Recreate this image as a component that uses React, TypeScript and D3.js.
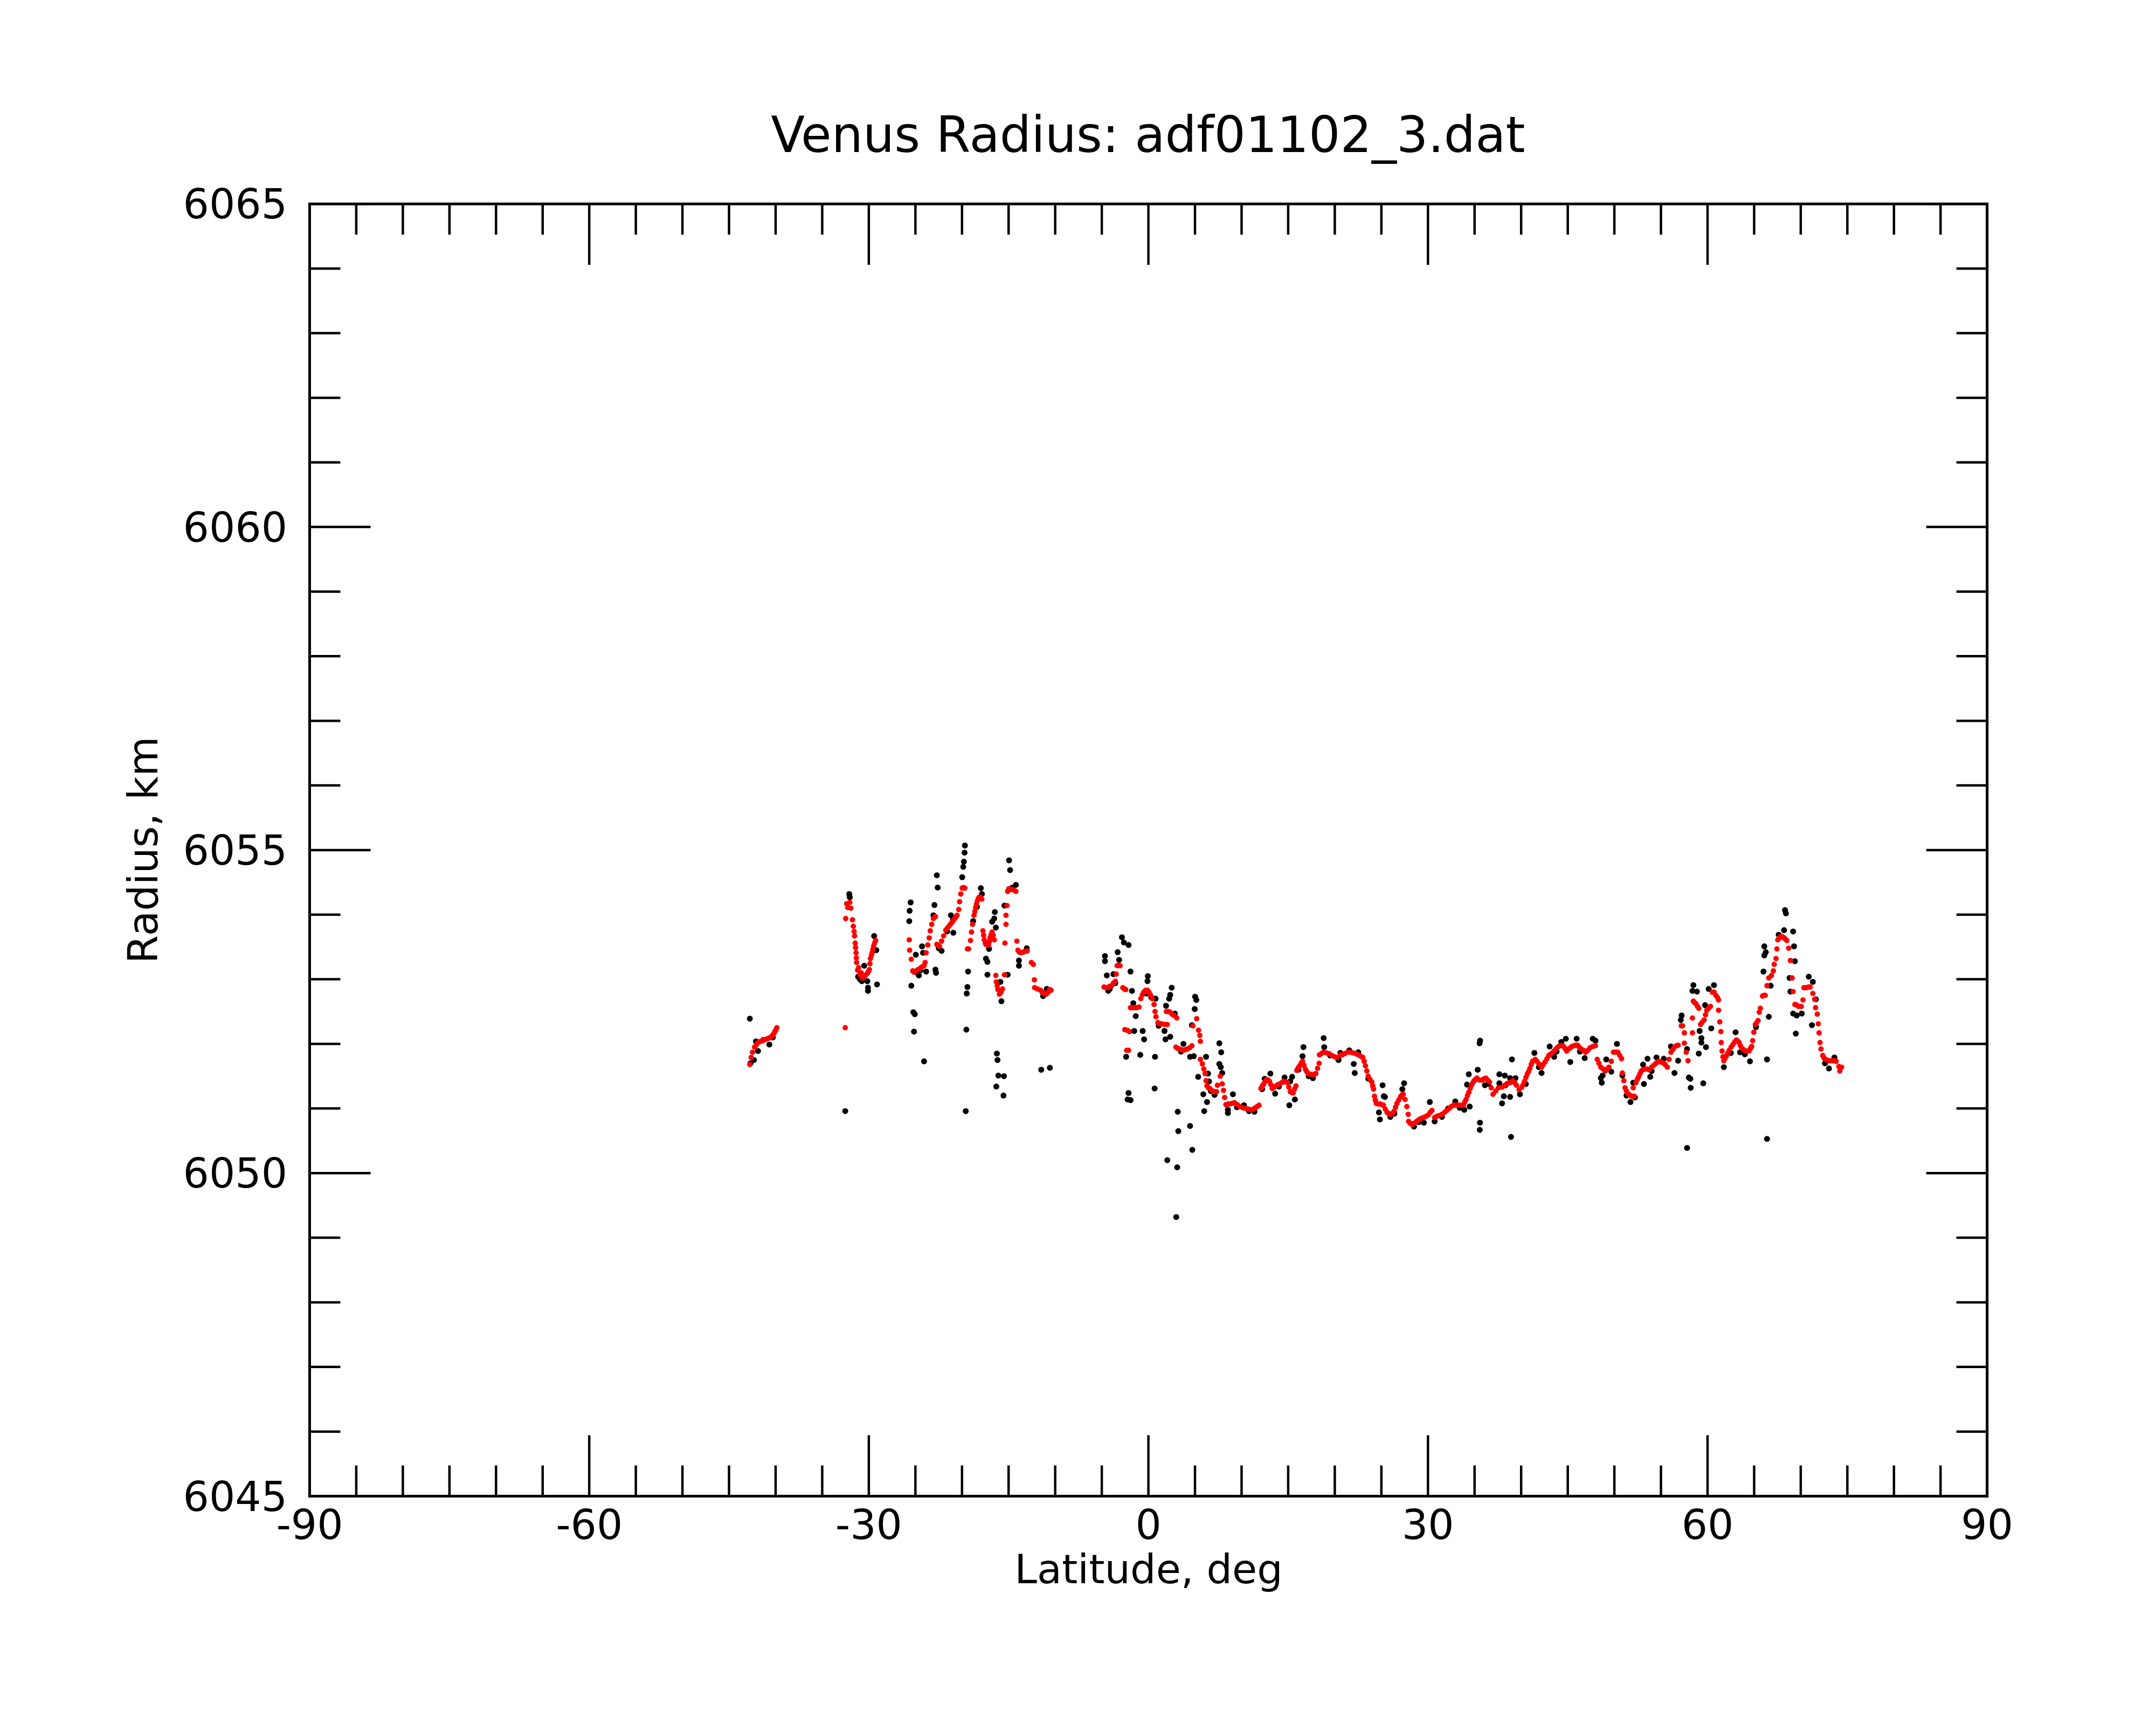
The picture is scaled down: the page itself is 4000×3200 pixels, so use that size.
import React from "react";
import * as d3 from "d3";

const titleText = "Venus Radius: adf01102_3.dat";
const xLabel = "Latitude, deg";
const yLabel = "Radius, km";
const xMajorTicks = [-90, -60, -30, 0, 30, 60, 90];
const yMajorTicks = [6045, 6050, 6055, 6060, 6065];

// Raw radius (black) points: [latitude, radius]
const blackPoints: [number, number][] = [
  [-42.77,6052.39],[-42.70,6051.70],[-42.33,6051.75],[-41.89,6051.89],[-42.11,6052.04],[-41.33,6052.06],[-40.67,6051.99],[-40.30,6052.10],
  [-32.53,6050.96],
  [-32.10,6054.32],[-32.04,6054.27],[-30.49,6053.21],[-31.15,6053.04],[-30.75,6052.97],[-30.16,6052.97],[-30.09,6052.87],[-30.09,6052.82],[-29.12,6052.92],[-29.43,6053.67],[-29.20,6053.45],[-30.95,6053.00],[-30.45,6052.99],
  [-25.51,6054.19],[-25.62,6054.06],[-25.66,6053.90],[-25.44,6052.90],[-25.22,6052.49],[-25.07,6052.46],[-25.15,6052.19],[-24.07,6051.73],[-24.96,6053.38],[-24.63,6053.06],[-24.29,6053.51],[-24.18,6053.41],[-23.85,6053.12],[-22.85,6053.15],[-22.79,6053.10],[-22.96,6054.15],[-23.07,6053.99],[-22.70,6054.61],[-22.61,6054.42],[-22.19,6053.44],[-20.93,6053.72],[-21.19,6053.99],[-20.97,6053.92],[-19.98,6054.58],[-19.87,6054.74],[-19.80,6054.82],[-19.73,6054.96],[-19.69,6055.07],[-19.35,6053.12],[-19.42,6052.88],[-19.49,6052.78],[-19.53,6052.22],[-19.60,6050.96],[-24.80,6053.10],[-24.45,6053.14],[-22.50,6053.48],[-21.60,6053.74],
  [-17.98,6054.41],[-17.87,6054.32],[-16.48,6054.04],[-16.54,6053.94],[-16.77,6053.89],[-16.37,6053.80],[-17.10,6053.47],[-17.43,6053.32],[-17.27,6053.27],[-17.27,6053.07],[-16.26,6051.85],[-16.19,6051.75],[-16.10,6051.51],[-15.50,6051.50],[-16.32,6051.34],[-15.55,6051.20],[-15.77,6052.66],[-15.88,6052.96],[-15.10,6053.07],[-15.44,6054.14],[-14.95,6054.84],[-14.84,6054.69],[-14.22,6054.46],[-13.89,6053.29],[-13.89,6053.21],[-13.05,6053.48],[-10.90,6052.85],[-11.50,6051.60],[-10.57,6051.63],[-18.40,6054.12],[-18.80,6053.90],[-14.60,6054.42],[-11.30,6052.74],
  [-4.66,6053.36],[-4.66,6053.28],[-4.46,6053.06],[-4.15,6052.85],[-3.30,6053.42],[-3.14,6053.30],[-2.84,6053.65],[-2.63,6053.57],[-2.13,6053.53],[-1.92,6053.12],[-3.75,6053.08],[-3.55,6052.94],[-1.76,6052.82],[-1.62,6052.63],[-1.36,6052.43],[-1.52,6052.20],[-2.39,6051.80],[-2.13,6051.24],[-2.23,6051.14],[-1.92,6051.13],[-0.87,6051.83],[-0.61,6052.20],[-0.46,6052.07],[-0.06,6053.05],[-0.10,6052.97],[0.71,6051.80],[0.67,6051.31],[0.77,6052.70],[1.73,6052.20],[1.83,6052.07],[2.34,6052.11],[1.89,6052.59],[2.23,6052.70],[2.34,6052.76],[2.50,6052.87],[2.84,6052.47],[3.15,6050.95],[3.21,6050.65],[4.47,6050.73],[4.71,6050.36],[2.03,6050.20],[3.09,6050.09],[2.99,6049.32],[3.76,6052.00],[4.47,6051.80],[4.87,6051.81],[5.01,6052.73],[5.14,6052.68],[4.97,6052.54],[4.67,6052.29],[5.34,6051.49],[6.19,6051.80],[6.40,6051.54],[6.50,6051.42],[5.89,6051.22],[6.29,6051.10],[5.99,6050.96],[7.10,6051.21],[7.61,6052.01],[7.81,6051.87],[7.61,6051.69],[7.77,6051.64],[7.92,6051.55],[8.53,6050.98],[8.53,6050.93],[9.07,6051.22],[10.25,6051.05],[11.38,6050.95],[12.48,6051.46],[13.09,6051.54],[13.60,6051.23],[14.61,6051.48],[15.22,6051.42],[15.42,6051.49],[15.12,6051.05],[15.72,6051.14],[16.64,6051.95],[16.54,6051.81],[17.65,6051.47],[18.81,6052.09],[18.87,6051.95],[20.39,6051.76],[-4.30,6052.82],[-0.20,6052.78],[0.30,6052.72],[1.10,6052.28],[3.50,6051.88],[6.70,6051.27],[9.50,6051.02],[10.80,6050.96],[12.20,6051.30],[14.00,6051.34],[16.10,6051.60],[17.20,6051.50],[19.50,6051.82],
  [20.60,6051.86],[21.56,6051.90],[22.52,6051.87],[22.04,6051.69],[22.14,6051.55],[20.40,6051.75],[25.13,6051.36],[25.26,6051.19],[25.38,6051.18],[24.74,6050.94],[24.84,6050.83],[25.96,6050.87],[27.44,6051.39],[27.25,6051.30],[28.50,6050.72],[29.56,6050.78],[30.20,6051.10],[30.72,6050.80],[32.16,6051.00],[32.93,6051.11],[33.90,6050.98],[34.48,6051.03],[34.38,6051.53],[34.19,6051.37],[35.34,6051.60],[35.59,6052.05],[35.54,6052.01],[35.58,6050.78],[35.56,6050.67],[36.11,6051.36],[37.66,6051.53],[38.24,6051.51],[38.81,6051.47],[39.39,6051.47],[37.66,6051.39],[38.33,6051.36],[38.14,6051.19],[37.95,6051.08],[38.81,6051.18],[39.01,6051.76],[38.91,6050.56],[39.87,6051.22],[41.42,6051.86],[42.19,6051.55],[43.06,6051.96],[43.54,6051.80],[44.31,6052.03],[44.79,6052.08],[45.27,6051.72],[45.95,6052.08],[46.82,6051.78],[47.68,6052.08],[48.55,6051.47],[48.65,6051.40],[23.60,6051.46],[26.40,6050.92],[29.00,6050.79],[31.50,6050.87],[33.40,6051.01],[36.50,6051.38],[40.50,6051.38],[41.90,6051.64],[43.80,6051.88],[46.30,6051.88],
  [47.97,6052.05],[48.74,6051.51],[49.67,6051.57],[49.13,6051.76],[50.28,6052.00],[50.86,6051.51],[51.73,6051.10],[52.21,6051.17],[52.02,6051.40],[53.17,6051.38],[53.56,6051.77],[53.08,6051.68],[53.85,6051.49],[54.52,6051.79],[55.30,6051.77],[56.07,6051.96],[56.45,6051.55],[56.84,6051.74],[57.22,6052.44],[57.13,6052.37],[57.80,6051.92],[57.99,6051.48],[58.15,6051.46],[58.19,6051.32],[57.80,6050.39],[59.54,6051.39],[58.38,6052.82],[58.48,6052.91],[58.86,6052.81],[59.15,6052.20],[59.34,6052.09],[59.34,6052.02],[59.06,6051.85],[59.73,6052.60],[59.83,6051.95],[60.69,6052.91],[60.12,6052.85],[60.40,6052.24],[61.75,6051.64],[63.01,6052.18],[63.49,6051.87],[64.55,6051.73],[66.09,6053.51],[66.25,6053.42],[66.09,6053.37],[66.00,6053.12],[66.77,6052.90],[66.57,6052.42],[66.38,6051.76],[66.38,6050.53],[67.63,6053.69],[68.21,6053.76],[68.31,6054.07],[68.41,6054.02],[69.18,6053.74],[69.28,6053.51],[69.37,6053.28],[68.80,6053.02],[68.89,6052.81],[69.18,6052.47],[69.57,6052.44],[70.11,6052.47],[69.47,6052.16],[70.86,6053.04],[71.30,6052.96],[71.63,6052.69],[71.20,6052.29],[73.03,6051.62],[73.61,6051.79],[51.30,6051.20],[54.00,6051.58],[62.50,6051.86],[64.00,6051.84],[65.20,6052.26],[72.60,6051.70],
];

// Filtered radius (red) points: [latitude, radius]
const redPoints: [number, number][] = [
  [-42.77,6051.68],[-42.62,6051.79],[-42.48,6051.87],[-42.26,6051.95],[-42.10,6051.98],[-41.95,6052.01],[-41.78,6052.03],[-41.60,6052.04],[-41.40,6052.05],[-41.22,6052.06],[-41.05,6052.07],[-40.89,6052.08],[-40.72,6052.09],[-40.56,6052.10],[-40.40,6052.12],[-40.27,6052.14],[-40.15,6052.17],[-40.05,6052.20],[-39.95,6052.22],[-39.87,6052.25],
  [-32.53,6052.25],
  [-32.37,6054.17],[-32.26,6054.11],[-32.04,6054.19],[-31.93,6054.10],[-32.48,6053.94],[-31.75,6053.92],[-31.66,6053.82],[-31.58,6053.74],[-31.53,6053.67],[-31.46,6053.56],[-31.42,6053.49],[-31.37,6053.41],[-31.34,6053.33],[-31.31,6053.26],[-31.20,6053.14],[-31.09,6053.18],[-30.95,6053.07],[-30.82,6053.10],[-30.70,6053.02],[-30.60,6053.04],[-30.50,6053.03],[-30.38,6053.06],[-30.16,6053.09],[-30.05,6053.12],[-29.94,6053.15],[-29.88,6053.24],[-29.83,6053.32],[-29.72,6053.37],[-29.65,6053.41],[-29.57,6053.46],[-29.49,6053.51],[-29.38,6053.56],[-29.27,6053.60],
  [-25.66,6053.61],[-25.62,6053.45],[-25.44,6053.31],[-25.29,6053.13],[-25.15,6053.11],[-25.07,6053.12],[-24.90,6053.13],[-24.73,6053.15],[-24.55,6053.16],[-24.40,6053.18],[-24.20,6053.20],[-24.07,6053.21],[-23.96,6053.26],[-23.85,6053.41],[-23.67,6053.53],[-23.52,6053.64],[-23.41,6053.75],[-23.25,6053.85],[-23.07,6053.94],[-22.85,6053.97],
  [-22.70,6053.54],[-22.55,6053.52],[-22.41,6053.51],[-22.19,6053.59],[-21.97,6053.67],[-21.75,6053.76],[-21.58,6053.79],[-21.41,6053.82],[-21.25,6053.85],[-21.08,6053.88],[-20.93,6053.91],[-20.79,6053.94],[-20.66,6053.96],[-20.53,6053.99],[-20.35,6054.08],[-20.26,6054.20],[-20.13,6054.32],[-19.98,6054.41],[-19.85,6054.42],[-19.69,6054.41],
  [-19.42,6053.47],[-19.30,6053.47],
  [-19.09,6053.60],[-18.98,6053.73],[-18.87,6053.85],[-18.71,6053.99],[-18.62,6054.05],[-18.54,6054.11],[-18.45,6054.16],[-18.36,6054.21],[-18.25,6054.25],[-18.14,6054.27],[-18.00,6054.27],[-17.87,6054.24],
  [-17.76,6053.75],[-17.68,6053.68],[-17.61,6053.61],[-17.50,6053.56],[-17.43,6053.54],[-17.30,6053.54],[-17.16,6053.53],[-17.08,6053.58],[-16.99,6053.64],[-16.88,6053.69],[-16.77,6053.73],[-16.65,6053.68],[-16.54,6053.61],
  [-16.37,6053.06],[-16.32,6052.96],[-16.22,6052.90],[-16.15,6052.84],[-15.99,6052.77],[-15.82,6052.80],[-15.66,6052.85],[-15.44,6053.07],
  [-15.39,6053.56],[-15.28,6053.85],[-15.28,6053.99],[-15.17,6054.14],[-15.10,6054.36],[-14.98,6054.40],[-14.82,6054.39],[-14.63,6054.39],[-14.44,6054.38],[-14.22,6054.36],
  [-14.11,6053.59],[-14.00,6053.45],[-13.85,6053.42],[-13.67,6053.41],[-13.45,6053.42],[-13.22,6053.43],[-13.00,6053.44],
  [-12.56,6053.26],[-12.34,6053.23],[-12.23,6052.99],[-12.21,6052.87],[-11.90,6052.85],[-11.57,6052.83],[-11.40,6052.80],[-11.23,6052.78],[-10.96,6052.77],[-10.75,6052.80],[-10.57,6052.84],[-10.45,6052.83],
  [-4.76,6052.88],[-4.56,6052.87],[-4.36,6052.87],[-4.15,6052.89],[-3.95,6052.90],[-3.75,6052.94],[-3.55,6052.97],[-3.45,6053.08],[-3.35,6053.21],[-3.20,6053.22],[-3.04,6053.21],
  [-2.74,6052.87],[-2.58,6052.85],[-2.43,6052.84],[-2.53,6052.22],[-2.28,6052.21],[-2.03,6052.19],[-2.33,6051.90],[-2.13,6051.90],
  [-1.92,6052.56],[-1.72,6052.56],[-1.52,6052.56],[-1.26,6052.56],[-1.01,6052.57],[-0.81,6052.70],[-0.65,6052.76],[-0.50,6052.80],[-0.30,6052.83],[-0.10,6052.83],[0.05,6052.80],[0.21,6052.76],[0.41,6052.70],[0.61,6052.61],[0.71,6052.50],[0.81,6052.42],[1.02,6052.33],[1.22,6052.31],[1.42,6052.31],[1.73,6052.30],[2.03,6052.30],
  [1.93,6052.50],[2.14,6052.50],[2.34,6052.49],[2.54,6052.46],[2.74,6052.44],[3.05,6052.40],
  [2.95,6051.95],[3.15,6051.93],[3.35,6051.92],[3.55,6051.91],[3.76,6051.90],[3.96,6051.91],[4.16,6051.92],[4.42,6051.94],[4.67,6051.97],
  [4.77,6052.28],[5.18,6052.39],[5.38,6052.21],[5.52,6052.13],[5.58,6052.04],
  [5.58,6051.76],[5.79,6051.69],[5.95,6051.61],[6.09,6051.54],[6.19,6051.43],[6.29,6051.35],[6.45,6051.32],[6.60,6051.31],[6.80,6051.28],[7.00,6051.26],[7.15,6051.26],[7.31,6051.26],[7.41,6051.36],[7.71,6051.50],[7.92,6051.38],[8.06,6051.28],[8.18,6051.17],[8.32,6051.06],[8.52,6051.07],[8.73,6051.07],[8.98,6051.08],[9.23,6051.09],[9.54,6051.06],[9.84,6051.03],[10.15,6051.01],[10.45,6051.00],[10.75,6050.99],[11.06,6050.98],[11.27,6050.99],[11.47,6051.01],[11.67,6051.03],[11.87,6051.05],
  [12.08,6051.31],[12.23,6051.35],[12.38,6051.38],[12.53,6051.42],[12.68,6051.45],[12.84,6051.44],[12.99,6051.42],[13.14,6051.37],[13.29,6051.31],[13.50,6051.33],[13.70,6051.35],[13.90,6051.37],[14.11,6051.38],[14.31,6051.40],[14.51,6051.42],[14.72,6051.41],[14.92,6051.40],[15.07,6051.33],[15.22,6051.26],[15.38,6051.25],[15.53,6051.24],[15.68,6051.30],[15.83,6051.35],[15.93,6051.59],[16.08,6051.63],[16.23,6051.66],[16.38,6051.70],[16.54,6051.73],[16.69,6051.67],[16.84,6051.61],[17.00,6051.57],[17.15,6051.54],[17.40,6051.53],[17.65,6051.52],[17.80,6051.53],[17.96,6051.54],[18.15,6051.62],[18.32,6051.70],[18.36,6051.83],[18.57,6051.85],[18.77,6051.87],[19.08,6051.86],[19.38,6051.85],[19.68,6051.82],[19.99,6051.80],[20.21,6051.79],
  [20.60,6051.83],[20.79,6051.83],[21.08,6051.85],[21.37,6051.87],[21.66,6051.87],[21.95,6051.86],[22.24,6051.85],[22.52,6051.83],[22.77,6051.81],[23.01,6051.79],[23.15,6051.73],[23.29,6051.66],[23.44,6051.58],[23.58,6051.50],[23.78,6051.45],[23.97,6051.41],[24.07,6051.35],[24.16,6051.30],[24.26,6051.19],[24.35,6051.13],[24.45,6051.08],[24.64,6051.07],[24.84,6051.07],[25.03,6051.06],[25.22,6051.05],[25.42,6050.99],[25.61,6050.94],[25.80,6050.92],[25.99,6050.91],[26.19,6050.93],[26.38,6050.96],[26.52,6051.02],[26.67,6051.08],[26.86,6051.13],[27.05,6051.18],[27.20,6051.21],[27.34,6051.22],[27.54,6051.14],[27.73,6051.03],[27.88,6050.91],[27.92,6050.80],[28.11,6050.77],[28.31,6050.75],[28.50,6050.77],[28.69,6050.79],[28.89,6050.81],[29.08,6050.83],[29.32,6050.85],[29.56,6050.86],[29.80,6050.88],[30.04,6050.90],[30.24,6050.94],[30.43,6050.97],[30.72,6050.86],[30.96,6050.88],[31.20,6050.89],[31.49,6050.91],[31.78,6050.94],[32.02,6050.97],[32.26,6051.00],[32.50,6051.03],[32.74,6051.05],[33.03,6051.05],[33.32,6051.05],[33.56,6051.05],[33.80,6051.05],[33.95,6051.10],[34.09,6051.14],[34.24,6051.20],[34.38,6051.25],[34.53,6051.31],[34.67,6051.36],[34.82,6051.40],[34.96,6051.43],[35.11,6051.45],[35.25,6051.47],[35.54,6051.44],[35.83,6051.44],[36.02,6051.46],[36.21,6051.47],[36.40,6051.44],[36.60,6051.41],[36.79,6051.32],[36.98,6051.22],[37.27,6051.27],[37.56,6051.32],[37.95,6051.33],[38.24,6051.36],[38.52,6051.39],[38.81,6051.40],[39.10,6051.43],[39.30,6051.40],[39.49,6051.36],[39.78,6051.29],[40.07,6051.33],[40.22,6051.37],[40.36,6051.42],[40.51,6051.48],[40.65,6051.53],[40.79,6051.57],[40.93,6051.62],[41.08,6051.68],[41.22,6051.73],[41.51,6051.76],[41.70,6051.73],[41.90,6051.69],[42.19,6051.64],[42.38,6051.68],[42.57,6051.72],[42.77,6051.77],[42.96,6051.82],[43.15,6051.84],[43.34,6051.86],[43.54,6051.89],[43.73,6051.92],[43.92,6051.95],[44.12,6051.97],[44.31,6051.97],[44.50,6051.97],[44.70,6051.93],[44.89,6051.89],[45.08,6051.92],[45.27,6051.94],[45.46,6051.96],[45.66,6051.97],[45.85,6051.98],[46.04,6051.98],[46.23,6051.95],[46.43,6051.92],[46.67,6051.90],[46.91,6051.87],[47.15,6051.90],[47.39,6051.94],[47.68,6051.96],[47.97,6051.97],
  [48.16,6051.76],[48.35,6051.70],[48.55,6051.64],[48.79,6051.61],[49.03,6051.58],[49.22,6051.61],[49.42,6051.64],[49.67,6051.73],[49.90,6051.87],[50.14,6051.87],[50.38,6051.87],[50.58,6051.82],[50.77,6051.77],[50.86,6051.55],[51.02,6051.43],[51.15,6051.32],[51.30,6051.27],[51.44,6051.23],[51.63,6051.21],[51.83,6051.19],[52.02,6051.32],[52.12,6051.19],[52.31,6051.40],[52.46,6051.45],[52.60,6051.49],[52.75,6051.54],[52.89,6051.58],[53.08,6051.60],[53.27,6051.61],[53.51,6051.61],[53.75,6051.60],[54.00,6051.64],[54.24,6051.67],[54.48,6051.70],[54.72,6051.73],[54.96,6051.72],[55.20,6051.71],[55.44,6051.68],[55.68,6051.64],[55.87,6051.76],[56.07,6051.87],[56.26,6051.91],[56.45,6051.95],[56.65,6051.97],[56.84,6051.98],[57.19,6052.28],[57.32,6052.28],[57.51,6052.17],[57.51,6052.01],[57.71,6051.87],[57.90,6051.74],[58.38,6052.17],[58.38,6052.40],[58.48,6052.66],[58.60,6052.64],[58.77,6052.62],[58.92,6052.58],[59.06,6052.55],[59.25,6052.30],[59.40,6052.33],[59.63,6052.37],[59.78,6052.45],[59.92,6052.52],[60.11,6052.55],[60.31,6052.58],[60.50,6052.80],[60.70,6052.80],[60.89,6052.75],[61.05,6052.72],[61.18,6052.68],[61.18,6052.52],[61.31,6052.34],[61.43,6052.19],[61.47,6052.02],[61.56,6051.89],[61.65,6051.80],[61.75,6051.74],[61.90,6051.78],[62.04,6051.82],[62.19,6051.86],[62.33,6051.90],[62.53,6051.95],[62.72,6051.99],[62.91,6052.03],[63.10,6052.06],[63.25,6052.04],[63.39,6052.02],[63.53,6051.97],[63.68,6051.93],[63.88,6051.91],[64.07,6051.89],[64.26,6051.89],[64.45,6051.89],[64.60,6051.93],[64.74,6051.96],[64.84,6052.05],[64.97,6052.18],[65.13,6052.30],[65.28,6052.33],[65.42,6052.36],[65.55,6052.49],[65.67,6052.55],[65.90,6052.74],[66.05,6052.75],[66.19,6052.75],[66.38,6052.90],[66.57,6053.02],[66.86,6053.06],[67.06,6053.13],[67.15,6053.23],[67.35,6053.32],[67.44,6053.47],[67.54,6053.61],[67.69,6053.64],[67.83,6053.66],[68.02,6053.66],[68.21,6053.64],[68.36,6053.62],[68.50,6053.60],[68.70,6053.48],[68.89,6053.29],[69.08,6053.02],[69.18,6052.81],[69.37,6052.61],[69.57,6052.60],[69.76,6052.58],[70.05,6052.58],[70.24,6052.68],[70.34,6052.87],[70.48,6052.87],[70.62,6052.87],[70.82,6052.88],[71.01,6052.88],[71.30,6052.78],[71.49,6052.69],[71.59,6052.56],[71.78,6052.46],[71.88,6052.31],[71.97,6052.17],[72.07,6052.02],[72.17,6051.92],[72.36,6051.82],[72.50,6051.78],[72.65,6051.76],[72.84,6051.75],[73.03,6051.74],[73.22,6051.74],[73.42,6051.74],[73.61,6051.74],[73.80,6051.73],[74.09,6051.65],[74.19,6051.58],[74.38,6051.64],
];

const W = 4000;
const H = 3200;
const left = 574.5;
const right = 3686.7;
const top = 378.3;
const bottom = 2775.5;
const FONT = "'DejaVu Sans', 'Liberation Sans', sans-serif";

export default function App() {
  const x = d3.scaleLinear().domain([-90, 90]).range([left, right]);
  const y = d3.scaleLinear().domain([6045, 6065]).range([bottom, top]);

  const xMinor = d3.range(-90, 90.01, 5).filter((v) => !xMajorTicks.includes(v));
  const yMinor = d3.range(6045, 6065.01, 1).filter((v) => !yMajorTicks.includes(v));
  const majLen = 113;
  const minLen = 57;
  const tickW = 4.5;

  return (
    <svg
      width={W}
      height={H}
      viewBox={`0 0 ${W} ${H}`}
      style={{ position: "absolute", left: 0, top: 0, background: "#fff" }}
      xmlns="http://www.w3.org/2000/svg"
    >
      <rect x={0} y={0} width={W} height={H} fill="#fff" />
      <text x={2130} y={282} fontFamily={FONT} fontSize={92} textAnchor="middle" fill="#000">
        {titleText}
      </text>

      {/* data */}
      <g>
        {blackPoints.map((p, i) => (
          <circle key={"b" + i} cx={x(p[0])} cy={y(p[1])} r={5.5} fill="#000" />
        ))}
      </g>
      <g>
        {redPoints.map((p, i) => (
          <circle key={"r" + i} cx={x(p[0])} cy={y(p[1])} r={5} fill="#ff0000" />
        ))}
      </g>

      {/* ticks */}
      <g stroke="#000" strokeWidth={tickW}>
        {xMajorTicks.map((v) => (
          <g key={"xM" + v}>
            <line x1={x(v)} x2={x(v)} y1={bottom} y2={bottom - majLen} />
            <line x1={x(v)} x2={x(v)} y1={top} y2={top + majLen} />
          </g>
        ))}
        {xMinor.map((v) => (
          <g key={"xm" + v}>
            <line x1={x(v)} x2={x(v)} y1={bottom} y2={bottom - minLen} />
            <line x1={x(v)} x2={x(v)} y1={top} y2={top + minLen} />
          </g>
        ))}
        {yMajorTicks.map((v) => (
          <g key={"yM" + v}>
            <line x1={left} x2={left + majLen} y1={y(v)} y2={y(v)} />
            <line x1={right} x2={right - majLen} y1={y(v)} y2={y(v)} />
          </g>
        ))}
        {yMinor.map((v) => (
          <g key={"ym" + v}>
            <line x1={left} x2={left + minLen} y1={y(v)} y2={y(v)} />
            <line x1={right} x2={right - minLen} y1={y(v)} y2={y(v)} />
          </g>
        ))}
      </g>

      <rect
        x={left}
        y={top}
        width={right - left}
        height={bottom - top}
        fill="none"
        stroke="#000"
        strokeWidth={5}
      />

      {/* tick labels */}
      <g fontFamily={FONT} fontSize={76} fill="#000">
        {xMajorTicks.map((v) => (
          <text key={"xl" + v} x={x(v)} y={2855} textAnchor="middle">
            {String(v)}
          </text>
        ))}
        {yMajorTicks.map((v) => (
          <text key={"yl" + v} x={533} y={y(v) + 27} textAnchor="end">
            {String(v)}
          </text>
        ))}
      </g>

      <text x={2131} y={2937} fontFamily={FONT} fontSize={75} textAnchor="middle" fill="#000">
        {xLabel}
      </text>
      <text
        transform={`translate(292, ${(top + bottom) / 2}) rotate(-90)`}
        fontFamily={FONT}
        fontSize={76}
        textAnchor="middle"
        fill="#000"
      >
        {yLabel}
      </text>
    </svg>
  );
}
